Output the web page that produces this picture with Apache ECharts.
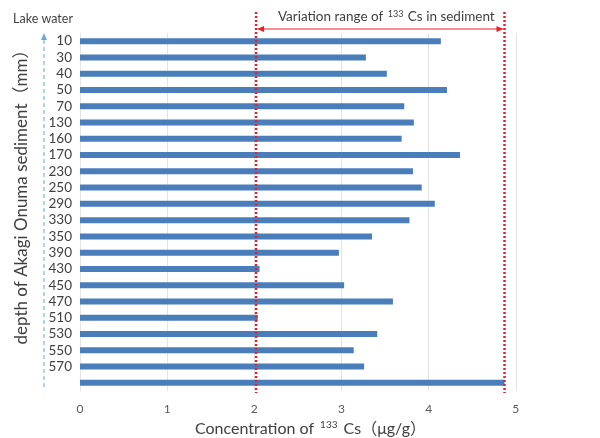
<!DOCTYPE html>
<html>
<head>
<meta charset="utf-8">
<script src="https://cdn.jsdelivr.net/npm/echarts@6/dist/echarts.min.js"></script>
<style>
  html, body { margin: 0; padding: 0; background: #fff; }
  #chart { width: 600px; height: 438px; }
</style>
</head>
<body>
<div id="chart"></div>
<script>
// Sediment depth (mm) from the lake bottom downward; the last bar has no depth label
const depthLabels = ['10', '30', '40', '50', '70', '130', '160', '170', '230', '250', '290',
  '330', '350', '390', '430', '450', '470', '510', '530', '550', '570', ''];
// 133Cs concentration (ug/g) for each layer
const cs133 = [4.14, 3.28, 3.52, 4.21, 3.72, 3.83, 3.69, 4.36, 3.82, 3.92, 4.07,
  3.78, 3.35, 2.97, 2.06, 3.03, 3.59, 2.04, 3.41, 3.14, 3.26, 4.87];
// Concentration axis ticks
const xTicks = [0, 1, 2, 3, 4, 5, 6];
// Bounds of the variation range marked with dotted red lines
const rangeMin = 2.02;
const rangeMax = 4.87;

const FONT = 'Lato, "Noto Sans", "Noto Sans CJK SC", sans-serif';
const chart = echarts.init(document.getElementById('chart'), null, { renderer: 'canvas' });

chart.setOption({
  animation: false,
  backgroundColor: '#ffffff',
  textStyle: { fontFamily: FONT },
  grid: { left: 80, top: 33, width: 523, height: 358, containLabel: false, outerBoundsMode: 'none' },
  xAxis: {
    type: 'value',
    min: xTicks[0],
    max: xTicks[xTicks.length - 1],
    interval: 1,
    axisLine: { show: false },
    axisTick: { show: false },
    splitLine: { show: true, lineStyle: { color: '#e4e4e4', width: 1 } },
    axisLabel: { color: '#595959', fontSize: 12, margin: 12, fontFamily: FONT },
    name: '{a|Concentration of }{s|133}{a| Cs（μg/g）}',
    nameLocation: 'middle',
    nameGap: 29,
    nameTextStyle: {
      padding: [0, 62, 0, 0],
      rich: {
        a: { fontSize: 16, color: '#404040', fontFamily: FONT },
        s: { fontSize: 10, color: '#404040', fontFamily: FONT, verticalAlign: 'top', padding: [0, 2, 8, 2] }
      }
    }
  },
  yAxis: {
    type: 'category',
    data: depthLabels,
    inverse: true,
    axisLine: { show: true, lineStyle: { color: '#e6e6e6' } },
    axisTick: { show: false },
    splitLine: { show: false },
    axisLabel: { interval: 0, color: '#404040', fontSize: 13.5, margin: 8, fontFamily: FONT },
    name: 'depth of Akagi Onuma sediment（mm）',
    nameLocation: 'middle',
    nameRotate: 90,
    nameGap: 50,
    nameTextStyle: { fontSize: 17, color: '#404040', fontFamily: FONT, padding: [0, 0, 0, 38] }
  },
  series: [{
    type: 'bar',
    data: cs133,
    barWidth: 6,
    itemStyle: { color: '#4a7ebb' }
  }]
});

// Decorations placed through the axis scale
const xL = chart.convertToPixel({ xAxisIndex: 0 }, rangeMin);
const xR = chart.convertToPixel({ xAxisIndex: 0 }, rangeMax);
const red = '#e8202a';
const arrowY = 29;
const gridBottom = 33 + 358 + 2;

chart.setOption({
  graphic: [
    // dotted red bounds
    { type: 'line', shape: { x1: xL, y1: 12, x2: xL, y2: gridBottom },
      style: { stroke: red, lineWidth: 2.5, lineDash: [2, 2] }, z: 10 },
    { type: 'line', shape: { x1: xR, y1: 12, x2: xR, y2: gridBottom },
      style: { stroke: red, lineWidth: 2.5, lineDash: [2, 2] }, z: 10 },
    // double-headed arrow between the bounds
    { type: 'line', shape: { x1: xL + 2, y1: arrowY, x2: xR - 2, y2: arrowY },
      style: { stroke: red, lineWidth: 1 }, z: 10 },
    { type: 'polygon', shape: { points: [[xL + 1, arrowY], [xL + 8, arrowY - 3], [xL + 8, arrowY + 3]] },
      style: { fill: red }, z: 10 },
    { type: 'polygon', shape: { points: [[xR - 1, arrowY], [xR - 8, arrowY - 3], [xR - 8, arrowY + 3]] },
      style: { fill: red }, z: 10 },
    { type: 'text', x: (xL + xR) / 2 + 6, y: 17, z: 10,
      style: {
        text: '{t|Variation range of }{s|133}{t| Cs in sediment}',
        align: 'center', verticalAlign: 'middle',
        rich: {
          t: { fontSize: 13.5, fill: '#404040', fontFamily: FONT },
          s: { fontSize: 9, fill: '#404040', fontFamily: FONT, verticalAlign: 'top', padding: [0, 1, 6, 1] }
        }
      } },
    // depth direction arrow toward the lake water
    { type: 'line', shape: { x1: 44, y1: 40, x2: 44, y2: 390 },
      style: { stroke: '#9dc3e6', lineWidth: 1.5, lineDash: [4, 3] } },
    { type: 'polygon', shape: { points: [[44, 33], [41, 40], [47, 40]] },
      style: { fill: '#6fa8dc' } },
    { type: 'text', x: 43, y: 19,
      style: { text: 'Lake water', align: 'center', verticalAlign: 'middle',
        fontSize: 12.5, fill: '#404040', fontFamily: FONT } }
  ]
});
</script>
</body>
</html>
